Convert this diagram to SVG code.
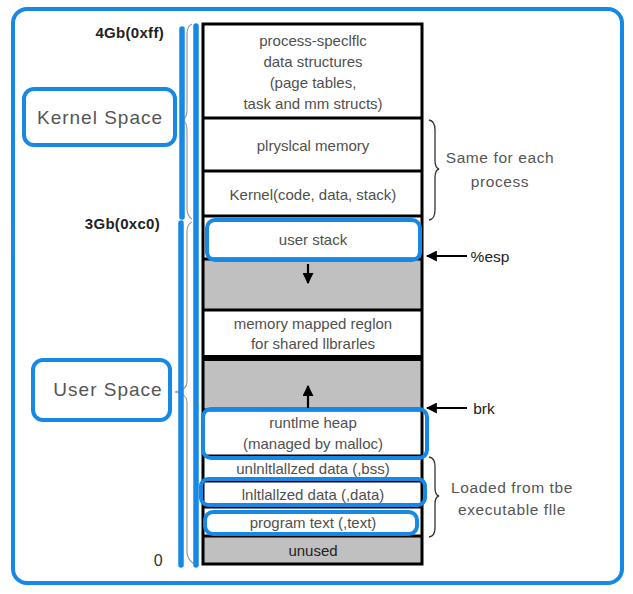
<svg xmlns="http://www.w3.org/2000/svg" width="633" height="594" viewBox="0 0 633 594">
<defs>
<style>
.lbl{font-family:"Liberation Sans",Arial,sans-serif;font-size:15px;fill:#505050;text-anchor:middle}
.side{font-family:"Liberation Sans",Arial,sans-serif;font-size:15.5px;fill:#555;text-anchor:middle;letter-spacing:0.6px}
.addr{font-family:"Liberation Sans",Arial,sans-serif;font-size:15px;font-weight:bold;fill:#222;text-anchor:end;letter-spacing:0.3px}
.space{font-family:"Liberation Sans",Arial,sans-serif;font-size:19px;fill:#555;text-anchor:middle;letter-spacing:1px}
.blue{fill:none;stroke:#1689e6;stroke-width:4}
.bluel{stroke:#1689e6;stroke-width:5.5;stroke-linecap:round}
.sep{stroke:#000;stroke-width:3}
.gray{fill:#c0c0c0}
.brace{fill:none;stroke:#333;stroke-width:1.3}
.gbrace{fill:none;stroke:#999;stroke-width:1.2}
.arr{stroke:#000;stroke-width:2.2}
</style>
<marker id="ah" viewBox="0 0 10 10" refX="9" refY="5" markerWidth="5" markerHeight="5" orient="auto-start-reverse">
<path d="M0,0 L10,5 L0,10 z" fill="#000"/>
</marker>
</defs>
<rect width="633" height="594" fill="#fff"/>
<rect id="frame" class="blue" x="13" y="9" width="609" height="574" rx="14"/>

<g id="memory">
<rect x="203" y="24" width="219" height="540" fill="#fff"/>
<rect class="gray" x="203" y="259" width="219" height="51"/>
<rect class="gray" x="203" y="357" width="219" height="53"/>
<rect class="gray" x="203" y="536" width="219" height="28"/>
<line class="sep" x1="203" y1="118" x2="422" y2="118"/>
<line class="sep" x1="203" y1="171" x2="422" y2="171"/>
<line class="sep" x1="203" y1="216" x2="422" y2="216"/>
<line class="sep" x1="203" y1="259" x2="422" y2="259"/>
<line class="sep" x1="203" y1="310" x2="422" y2="310"/>
<line x1="203" y1="358" x2="422" y2="358" stroke="#000" stroke-width="6"/>
<line class="sep" x1="203" y1="410" x2="422" y2="410"/>
<line class="sep" x1="203" y1="456" x2="422" y2="456"/>
<line class="sep" x1="203" y1="481" x2="422" y2="481"/>
<line class="sep" x1="203" y1="507" x2="422" y2="507"/>
<line class="sep" x1="203" y1="536" x2="422" y2="536"/>
<rect x="203" y="24" width="219" height="540" fill="none" stroke="#000" stroke-width="3"/>
</g>

<g id="n-process-specific">
<text class="lbl" x="313" y="46">process-speclflc</text>
<text class="lbl" x="313" y="67">data structures</text>
<text class="lbl" x="313" y="88">(page tables,</text>
<text class="lbl" x="313" y="109">task and mm structs)</text>
</g>
<g id="n-physical"><text class="lbl" x="313" y="151">plryslcal memory</text></g>
<g id="n-kernel"><text class="lbl" x="313" y="200">Kernel(code, data, stack)</text></g>
<g id="n-user-stack">
<text class="lbl" x="313" y="245">user stack</text>
<rect class="blue" x="207" y="220" width="213" height="40" rx="8"/>
</g>
<g id="n-mmap">
<text class="lbl" x="313" y="329">memory mapped reglon</text>
<text class="lbl" x="313" y="349">for shared llbrarles</text>
</g>
<g id="n-heap">
<text class="lbl" x="313" y="428">runtlme heap</text>
<text class="lbl" x="313" y="449">(managed by malloc)</text>
<rect class="blue" x="203" y="409" width="224" height="49" rx="8"/>
</g>
<g id="n-bss"><text class="lbl" x="313" y="474">unlnltlallzed data (,bss)</text></g>
<g id="n-data">
<text class="lbl" x="313" y="500">lnltlallzed data (,data)</text>
<rect class="blue" x="201" y="479" width="224" height="26" rx="7"/>
</g>
<g id="n-text">
<text class="lbl" x="313" y="528">program text (,text)</text>
<rect class="blue" x="205" y="512" width="212" height="22" rx="8"/>
</g>
<g id="n-unused"><text class="lbl" x="313" y="556" style="fill:#222">unused</text></g>

<g id="addresses">
<text class="addr" x="164" y="38">4Gb(0xff)</text>
<text class="addr" x="160" y="229">3Gb(0xc0)</text>
<text class="addr" x="163" y="566" style="font-weight:normal;font-size:16px;fill:#333">0</text>
</g>

<g id="n-kernel-space">
<rect class="blue" x="24" y="89" width="151" height="56" rx="10"/>
<text class="space" x="100" y="124">Kernel Space</text>
</g>
<g id="n-user-space">
<rect class="blue" x="33" y="360" width="137" height="60" rx="10"/>
<text class="space" x="108" y="396">User Space</text>
</g>

<g id="n-same">
<text class="side" x="500" y="163">Same for each</text>
<text class="side" x="500" y="187">process</text>
</g>
<g id="n-loaded">
<text class="side" x="512" y="493">Loaded from tbe</text>
<text class="side" x="512" y="515">executable flle</text>
</g>
<g id="n-esp"><text class="side" x="490" y="262" style="fill:#222;letter-spacing:0">%esp</text></g>
<g id="n-brk"><text class="side" x="484" y="414" style="fill:#222;letter-spacing:0">brk</text></g>

<g id="connectors">
<path class="gbrace" d="M192,24 Q187,26 187,34 L187,110 Q187,118 182,120 Q187,122 187,130 L187,208 Q187,216 192,219"/>
<path class="gbrace" d="M192,222 Q187,224 187,232 L187,382 Q187,390 175,392 Q187,394 187,402 L187,552 Q187,560 196,565"/>
<line class="bluel" x1="182" y1="29" x2="182" y2="217"/>
<line class="bluel" x1="181" y1="223" x2="181" y2="565"/>
<line class="bluel" x1="196" y1="26" x2="196" y2="565"/>
<path class="brace" d="M429,120 Q435,121 435,130 L435,160 Q435,168 439,169 Q435,170 435,178 L435,210 Q435,219 429,220"/>
<path class="brace" d="M429,457 Q435,458 435,466 L435,488 Q435,495 439,496 Q435,497 435,504 L435,528 Q435,536 429,537"/>
<line class="arr" x1="467" y1="256" x2="427" y2="256" marker-end="url(#ah)"/>
<line class="arr" x1="467" y1="408" x2="427" y2="408" marker-end="url(#ah)"/>
<line class="arr" x1="308" y1="264" x2="308" y2="283" marker-end="url(#ah)"/>
<line class="arr" x1="308" y1="408" x2="308" y2="386" marker-end="url(#ah)"/>
</g>
</svg>
